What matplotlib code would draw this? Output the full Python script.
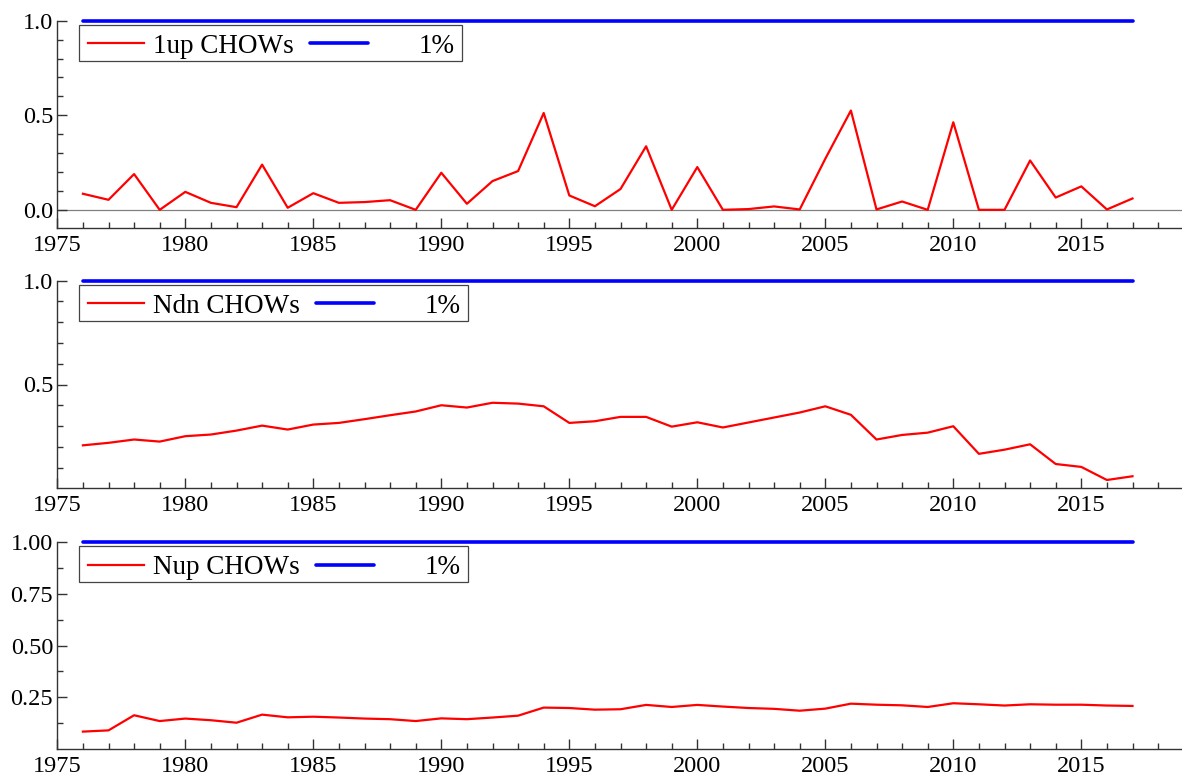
import numpy as np
import matplotlib
matplotlib.use("Agg")
import matplotlib.pyplot as plt
from matplotlib.lines import Line2D
from matplotlib.patches import Rectangle
from matplotlib.transforms import Affine2D
from matplotlib.ticker import FixedLocator, MultipleLocator, FormatStrFormatter

# ---- data -------------------------------------------------------------
years = np.arange(1976, 2018)

chow_1up = [0.085, 0.053, 0.189, 0.000, 0.095, 0.037, 0.014, 0.239, 0.011, 0.088,
            0.037, 0.041, 0.051, 0.000, 0.196, 0.032, 0.152, 0.205, 0.512, 0.076,
            0.019, 0.110, 0.336, 0.000, 0.226, 0.000, 0.004, 0.018, 0.002, 0.270,
            0.525, 0.002, 0.044, 0.000, 0.463, 0.000, 0.000, 0.261, 0.065, 0.124,
            0.002, 0.060]

chow_ndn = [0.207, 0.219, 0.235, 0.225, 0.251, 0.259, 0.278, 0.302, 0.283, 0.307,
            0.315, 0.333, 0.352, 0.370, 0.400, 0.389, 0.412, 0.408, 0.395, 0.315,
            0.323, 0.344, 0.344, 0.297, 0.318, 0.293, 0.317, 0.341, 0.365, 0.395,
            0.354, 0.235, 0.257, 0.268, 0.299, 0.166, 0.186, 0.212, 0.117, 0.103,
            0.040, 0.058]

chow_nup = [0.084, 0.090, 0.163, 0.135, 0.147, 0.139, 0.127, 0.166, 0.153, 0.156,
            0.152, 0.147, 0.144, 0.135, 0.148, 0.144, 0.152, 0.161, 0.200, 0.198,
            0.190, 0.192, 0.213, 0.203, 0.213, 0.205, 0.198, 0.194, 0.185, 0.195,
            0.219, 0.214, 0.211, 0.203, 0.221, 0.216, 0.210, 0.216, 0.214, 0.214,
            0.210, 0.208]

# scaled 1% critical value
crit_1pct = [1.0] * len(years)

series = [chow_1up, chow_ndn, chow_nup]
series_names = ["1up CHOWs", "Ndn CHOWs", "Nup CHOWs"]
crit_label = "1%"

y_major = [[0.0, 0.5, 1.0], [0.5, 1.0], [0.25, 0.50, 0.75, 1.00]]
y_minor = [[0.1, 0.2, 0.3, 0.4, 0.6, 0.7, 0.8, 0.9],
           [0.1, 0.2, 0.3, 0.4, 0.6, 0.7, 0.8, 0.9],
           [0.125, 0.375, 0.625, 0.875]]
y_fmt = ["%.1f", "%.1f", "%.2f"]
y_lims = [(-0.095, 1.0), (0.0, 1.0), (0.0, 1.0)]

# ---- figure -----------------------------------------------------------
W, H = 1182, 778
plt.rcParams['font.family'] = ['Liberation Serif', 'DejaVu Serif']
fig = plt.figure(figsize=(W / 100, H / 100), dpi=100)

left_px = 57.3
px_per_year = 25.6
x_lo, x_hi = 1975, 2019
panel_px = [(20.7, 227.8), (280.7, 488.3), (542.0, 749.0)]

# pixel transform (origin at top-left) for the key boxes
pix = Affine2D().scale(1, -1).translate(0, H)

spine_col = "#333333"
TICK_FS = 17.5
KEY_FS = 19.5

renderer = fig.canvas.get_renderer()

for i, (top, bot) in enumerate(panel_px):
    ax = fig.add_axes([left_px / W, 1 - bot / H,
                       (x_hi - x_lo) * px_per_year / W, (bot - top) / H])
    ax.set_xlim(x_lo, x_hi)
    ax.set_ylim(*y_lims[i])
    ax.set_facecolor("none")

    for s in ("top", "right"):
        ax.spines[s].set_visible(False)
    for s in ("left", "bottom"):
        ax.spines[s].set_color(spine_col)
        ax.spines[s].set_linewidth(1.0)

    ax.xaxis.set_major_locator(MultipleLocator(5))
    ax.xaxis.set_minor_locator(MultipleLocator(1))
    ax.yaxis.set_major_locator(FixedLocator(y_major[i]))
    ax.yaxis.set_minor_locator(FixedLocator(y_minor[i]))
    ax.yaxis.set_major_formatter(FormatStrFormatter(y_fmt[i]))

    ax.tick_params(which="both", direction="in", color=spine_col, width=1.0,
                   labelsize=TICK_FS, labelcolor="black")
    ax.tick_params(which="major", length=7.2)
    ax.tick_params(which="minor", length=4.0)
    ax.tick_params(axis="x", which="major", pad=5)
    ax.tick_params(axis="y", which="major", pad=3)

    if i == 0:
        ax.axhline(0.0, color="#808080", lw=0.9, zorder=1)

    ax.plot(years, series[i], color="#ff0000", lw=1.6, zorder=3)
    ax.plot(years, crit_1pct, color="#0000ff", lw=2.6,
            solid_capstyle="round", clip_on=False, zorder=4)

    # key box
    yc = top + 22.6
    ybase = top + 32.3
    fig.add_artist(Line2D([88.3, 144.0], [yc, yc], color="#ff0000", lw=1.6,
                          transform=pix, zorder=6))
    t1 = fig.text(153.0, ybase, series_names[i], fontsize=KEY_FS,
                  ha="left", va="baseline", transform=pix, zorder=6)
    x_end = t1.get_window_extent(renderer=renderer).x1
    b0 = x_end + 16.5
    b1 = b0 + 57.4
    fig.add_artist(Line2D([b0, b1], [yc, yc], color="#0000ff", lw=2.6,
                          solid_capstyle="round", transform=pix, zorder=6))
    t2_right = b1 + 86.8
    fig.text(t2_right, ybase, crit_label, fontsize=KEY_FS,
             ha="right", va="baseline", transform=pix, zorder=6)
    frame_r = t2_right + 7.7
    fig.add_artist(Rectangle((79.3, top + 40.0), frame_r - 79.3, -35.7,
                             facecolor="white", edgecolor="#444444", lw=0.9,
                             transform=pix, zorder=5))

fig.savefig("out.png", dpi=100)
